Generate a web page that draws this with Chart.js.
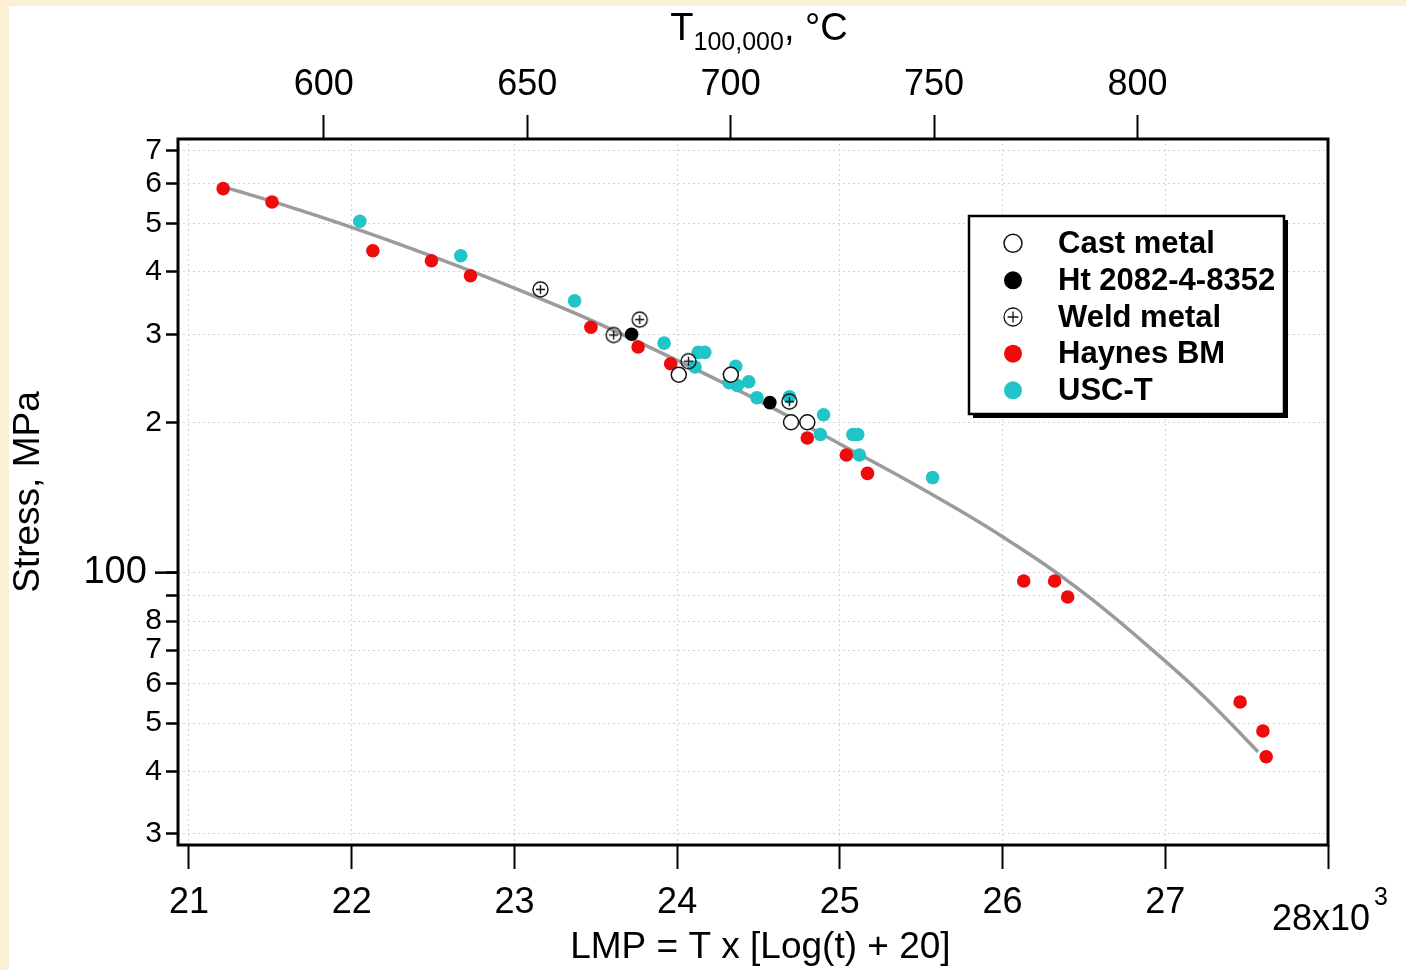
<!DOCTYPE html>
<html><head><meta charset="utf-8">
<script src="https://cdn.jsdelivr.net/npm/chart.js@4.4.0/dist/chart.umd.min.js"></script>
<style>
html,body{margin:0;padding:0;background:#FBEFD6;width:1406px;height:970px;overflow:hidden;}
#paper{position:absolute;left:9px;top:6px;width:1397px;height:964px;background:#ffffff;}
#c{position:absolute;left:0;top:0;}
</style></head><body>
<div id="paper"></div>
<canvas id="c" width="1406" height="970"></canvas>
<script>
// ---------- data ----------
const castLMP    = [24.01, 24.33, 24.70, 24.80];
const castStress = [249, 249, 200, 200];
const htLMP      = [23.72, 24.57];
const htStress   = [300, 219];
const weldLMP    = [23.16, 23.61, 23.77, 24.07, 24.69];
const weldStress = [369, 299, 321, 265, 220];
const haynesLMP    = [21.21, 21.51, 22.13, 22.49, 22.73, 23.47, 23.76, 23.96, 24.80, 25.04, 25.17, 26.13, 26.32, 26.40, 27.46, 27.60, 27.62];
const haynesStress = [587, 552, 441, 421, 393, 310, 283, 262, 186, 172, 158, 96.2, 96.2, 89.4, 55.1, 48.2, 42.8];
const uscLMP    = [22.05, 22.67, 23.37, 23.92, 24.13, 24.17, 24.11, 24.36, 24.32, 24.37, 24.44, 24.49, 24.69, 24.90, 24.88, 25.08, 25.11, 25.12, 25.57];
const uscStress = [505, 431, 350, 288, 276, 276, 258, 259, 240, 237, 241, 224, 225, 207, 189, 189, 189, 172, 155];
const fitLMP    = [21.25, 21.5, 22.0, 22.5, 23.0, 23.5, 24.0, 24.5, 25.0, 25.5, 26.0, 26.5, 27.0, 27.25, 27.57];
const fitStress = [587, 555, 491, 429, 371, 317, 266, 221, 181, 147.5, 118, 91, 66.5, 56, 43.8];

const seriesLabels = ['Cast metal', 'Ht 2082-4-8352', 'Weld metal', 'Haynes BM', 'USC-T'];
const xTicks = [21, 22, 23, 24, 25, 26, 27, 28];
const xTickLabels = ['21', '22', '23', '24', '25', '26', '27', ''];
const xMultiplierLabel = ['28x10', '3'];
const topTicks = [600, 650, 700, 750, 800];
const yTicks = [30, 40, 50, 60, 70, 80, 90, 100, 200, 300, 400, 500, 600, 700];
const yTickLabels = ['3', '4', '5', '6', '7', '8', '', '100\u2009\u2009', '2', '3', '4', '5', '6', '7'];
const xTitle = '\u2009\u2009LMP = T x [Log(t) + 20]';
const yTitle = 'Stress, MPa';
const topTitle = ['T', '100,000', ', \u00B0C'];

// axis ranges
const xMin = 20.9324, xMax = 28.0;
const yMin = 28.5, yMax = 738;
// top axis: T(°C) = LMP*1000/25 - 273.15 (linear in LMP)
const topMin = xMin * 40 - 273.15, topMax = xMax * 40 - 273.15;

const RED = '#ee0b0b', CYAN = '#22c5c7';
const FONT = "'Liberation Sans', Arial, sans-serif";

function pts(xs, ys) { return xs.map((x, i) => ({x: x, y: ys[i]})); }

function weldImg(r, lw) {
  const s = Math.ceil(2 * r + lw + 2);
  const c = document.createElement('canvas'); c.width = s; c.height = s;
  const g = c.getContext('2d'); const m = s / 2;
  g.strokeStyle = '#111'; g.lineWidth = lw;
  g.beginPath(); g.arc(m, m, r, 0, 2 * Math.PI); g.stroke();
  const k = r * 0.6;
  g.beginPath(); g.moveTo(m - k, m); g.lineTo(m + k, m); g.moveTo(m, m - k); g.lineTo(m, m + k); g.stroke();
  return c;
}

const deco = {
  id: 'deco',
  afterDraw(chart) {
    const {ctx, chartArea: a, scales} = chart;
    ctx.save();
    // frame
    ctx.strokeStyle = '#000'; ctx.lineWidth = 3;
    ctx.strokeRect(a.left, a.top, a.right - a.left, a.bottom - a.top);
    // long major tick at 100
    const y100 = scales.y.getPixelForValue(100);
    ctx.lineWidth = 2.5;
    ctx.beginPath(); ctx.moveTo(a.left - 23, y100); ctx.lineTo(a.left, y100); ctx.stroke();

    // 28x10^3 label
    const x28 = scales.x.getPixelForValue(28);
    ctx.fillStyle = '#000'; ctx.textBaseline = 'alphabetic'; ctx.textAlign = 'left';
    ctx.font = '36px ' + FONT;
    const w1 = ctx.measureText(xMultiplierLabel[0]).width;
    const lx = x28 - 56;
    ctx.fillText(xMultiplierLabel[0], lx, 930);
    ctx.font = '25px ' + FONT;
    ctx.fillText(xMultiplierLabel[1], lx + w1 + 4, 905);

    // top title  T_100,000, °C
    ctx.font = '38px ' + FONT; const wT = ctx.measureText(topTitle[0]).width;
    ctx.font = '25px ' + FONT; const wS = ctx.measureText(topTitle[1]).width;
    ctx.font = '38px ' + FONT; const wE = ctx.measureText(topTitle[2]).width;
    let tx = 759 - (wT + wS + wE) / 2;
    ctx.font = '38px ' + FONT; ctx.fillText(topTitle[0], tx, 40); tx += wT;
    ctx.font = '25px ' + FONT; ctx.fillText(topTitle[1], tx, 50); tx += wS;
    ctx.font = '38px ' + FONT; ctx.fillText(topTitle[2], tx, 40);

    // legend box
    const bx = 969, by = 216, bw = 315, bh = 198;
    ctx.fillStyle = '#000'; ctx.fillRect(bx + 4, by + 4, bw, bh);
    ctx.fillStyle = '#fff'; ctx.fillRect(bx, by, bw, bh);
    ctx.strokeStyle = '#000'; ctx.lineWidth = 2.5; ctx.strokeRect(bx, by, bw, bh);
    const rows = [243.3, 280.3, 317, 353.7, 390.3];
    const mx = 1013;
    chart.data.datasets.slice(0, 5).forEach((ds, i) => {
      const yy = rows[i];
      ctx.lineWidth = 1.5;
      if (i === 2) {
        const img = weldImg(9, 1.3);
        ctx.drawImage(img, mx - img.width / 2, yy - img.height / 2);
      } else {
        ctx.beginPath(); ctx.arc(mx, yy, 9, 0, 2 * Math.PI);
        ctx.fillStyle = ds.pointBackgroundColor; ctx.fill();
        if (i === 0) { ctx.strokeStyle = '#111'; ctx.stroke(); }
      }
      ctx.fillStyle = '#000'; ctx.font = 'bold 31px ' + FONT;
      ctx.textBaseline = 'middle'; ctx.textAlign = 'left';
      ctx.fillText(ds.label, 1058, yy + 1);
    });
    ctx.restore();
  }
};

const tickFont = {family: FONT, size: 36};

new Chart(document.getElementById('c'), {
  type: 'scatter',
  data: {
    datasets: [
      {label: seriesLabels[0], data: pts(castLMP, castStress), pointStyle: 'circle', pointRadius: 7.5,
       pointBackgroundColor: '#ffffff', pointBorderColor: '#111', pointBorderWidth: 1.5, showLine: false},
      {label: seriesLabels[1], data: pts(htLMP, htStress), pointStyle: 'circle', pointRadius: 6.8,
       pointBackgroundColor: '#000000', pointBorderColor: '#000', pointBorderWidth: 0, showLine: false},
      {label: seriesLabels[2], data: pts(weldLMP, weldStress), pointStyle: weldImg(7.5, 1.4), pointRadius: 8,
       pointBackgroundColor: 'rgba(0,0,0,0)', pointBorderColor: '#111', showLine: false},
      {label: seriesLabels[3], data: pts(haynesLMP, haynesStress), pointStyle: 'circle', pointRadius: 6.8,
       pointBackgroundColor: RED, pointBorderColor: RED, pointBorderWidth: 0, showLine: false},
      {label: seriesLabels[4], data: pts(uscLMP, uscStress), pointStyle: 'circle', pointRadius: 6.8,
       pointBackgroundColor: CYAN, pointBorderColor: CYAN, pointBorderWidth: 0, showLine: false},
      {label: 'fit', data: pts(fitLMP, fitStress), showLine: true, borderColor: '#9b9b9b', borderWidth: 3.5,
       pointRadius: 0, tension: 0.4, fill: false}
    ]
  },
  options: {
    responsive: false, animation: false, devicePixelRatio: 1,
    events: [],
    layout: {padding: {left: 0, top: 0, right: 78, bottom: 0}},
    plugins: {legend: {display: false}, tooltip: {enabled: false}},
    scales: {
      x: {
        type: 'linear', position: 'bottom', min: xMin, max: xMax,
        afterBuildTicks: (ax) => { ax.ticks = xTicks.map(v => ({value: v})); },
        afterFit: (ax) => { ax.height = 125; },
        ticks: {font: tickFont, color: '#000', padding: 12, maxRotation: 0, autoSkip: false,
                callback: (v) => { const i = xTicks.indexOf(v); return i >= 0 ? xTickLabels[i] : ''; }},
        grid: {color: '#d4d4d4', lineWidth: 1, tickLength: 24, tickWidth: 2, tickColor: '#000'},
        border: {display: false, dash: [2, 3]},
        title: {display: true, text: xTitle, color: '#000', font: {family: FONT, size: 37}, padding: {top: 0, bottom: 0}}
      },
      xTop: {
        type: 'linear', position: 'top', min: topMin, max: topMax,
        afterBuildTicks: (ax) => { ax.ticks = topTicks.map(v => ({value: v})); },
        afterFit: (ax) => { ax.height = 139; },
        ticks: {font: tickFont, color: '#000', padding: 8, maxRotation: 0, autoSkip: false,
                callback: (v) => String(v)},
        grid: {drawOnChartArea: false, tickLength: 24, tickWidth: 2, tickColor: '#000'},
        border: {display: false}
      },
      y: {
        type: 'logarithmic', position: 'left', min: yMin, max: yMax,
        afterBuildTicks: (ax) => { ax.ticks = yTicks.map(v => ({value: v})); },
        afterFit: (ax) => { ax.width = 178; },
        ticks: {color: '#000', padding: 4, autoSkip: false,
                font: (ctx) => ({family: FONT, size: (ctx.tick && ctx.tick.value === 100) ? 38 : 30}),
                callback: (v) => { const i = yTicks.indexOf(v); return i >= 0 ? yTickLabels[i] : ''; }},
        grid: {color: '#d4d4d4', lineWidth: 1, tickLength: 12, tickWidth: 2.5, tickColor: '#000'},
        border: {display: false, dash: [2, 3]},
        title: {display: true, text: yTitle, color: '#000', font: {family: FONT, size: 37}, padding: {top: 7, bottom: 0}}
      }
    }
  },
  plugins: [deco]
});
</script>
</body></html>
